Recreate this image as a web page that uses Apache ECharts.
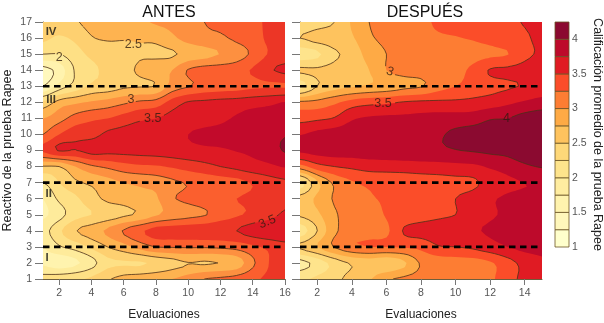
<!DOCTYPE html>
<html><head><meta charset="utf-8">
<script src="https://cdn.jsdelivr.net/npm/echarts@6/dist/echarts.min.js"></script>
<style>html,body{margin:0;padding:0;background:#fff}#c{width:604px;height:323px}</style></head>
<body><div id="c"></div>
<script>
// Calificación promedio. Rows run from reactivo 17 down to 1, columns from evaluación 1.
const antes = [
[2.3,2.35,2.47,2.58,2.6,2.65,2.7,2.78,2.82,2.92,3.0,3.05,3.1,3.18,3.3,3.4],
[2.3,2.22,2.3,2.48,2.53,2.52,2.53,2.56,2.7,2.85,2.93,2.96,3.05,3.14,3.3,3.38],
[2.0,2.0,2.15,2.3,2.35,2.4,2.47,2.45,2.47,2.58,2.66,2.76,2.88,3.05,3.27,3.35],
[1.4,1.6,2.03,2.2,2.3,2.4,2.55,2.65,2.75,3.02,3.1,3.12,3.15,3.28,3.46,3.56],
[1.5,1.85,2.1,2.3,2.35,2.45,2.48,2.52,2.85,2.98,3.08,3.12,3.15,3.2,3.22,3.22],
[2.3,2.6,2.7,2.78,2.85,2.95,3.05,3.1,3.35,3.52,3.55,3.58,3.6,3.65,3.7,3.76],
[2.75,2.9,3.1,3.2,3.25,3.35,3.45,3.5,3.6,3.65,3.65,3.7,3.78,3.85,3.82,3.8],
[3.0,3.25,3.4,3.42,3.55,3.6,3.65,3.68,3.72,3.75,3.8,3.82,3.85,3.88,3.9,3.98],
[3.3,3.52,3.49,3.6,3.58,3.58,3.6,3.62,3.65,3.68,3.7,3.72,3.76,3.8,3.88,4.02],
[2.48,2.5,2.75,2.95,3.05,3.15,3.2,3.22,3.28,3.35,3.42,3.5,3.57,3.65,3.7,3.77],
[2.0,2.25,2.45,2.55,2.65,2.75,2.8,2.85,2.95,3.02,3.08,3.12,3.17,3.27,3.38,3.45],
[1.75,2.05,2.2,2.4,2.55,2.6,2.68,2.72,2.97,3.05,3.12,3.18,3.25,3.3,3.35,3.42],
[1.7,1.9,2.15,2.25,2.35,2.45,2.55,2.72,2.85,2.92,2.98,3.12,3.22,3.3,3.4,3.55],
[1.9,2.2,2.48,2.62,2.8,3.02,3.2,3.35,3.38,3.4,3.42,3.45,3.5,3.62,3.7,3.75],
[1.75,1.97,2.1,2.3,2.5,2.65,2.85,3.0,3.02,3.03,3.03,3.05,3.1,3.2,3.3,3.4],
[1.7,1.6,1.7,1.9,2.18,2.22,2.22,2.3,2.4,2.49,2.47,2.51,2.6,2.95,3.25,3.4],
[2.1,2.15,2.2,2.3,2.47,2.58,2.63,2.68,2.75,2.85,3.0,3.05,3.1,3.2,3.3,3.35]
];
const despues = [
[2.3,2.38,2.5,2.78,3.0,3.08,3.15,3.2,3.28,3.3,3.32,3.38,3.45,3.52,3.65],
[2.5,2.6,2.65,2.72,2.96,3.05,3.13,3.18,3.22,3.24,3.27,3.33,3.42,3.45,3.6],
[2.1,2.2,2.45,2.6,2.85,3.0,3.05,3.08,3.1,3.12,3.15,3.2,3.24,3.42,3.55],
[2.55,2.55,2.6,2.65,2.75,3.0,3.08,3.1,3.12,3.15,3.32,3.52,3.55,3.6,3.72],
[2.15,2.5,2.65,2.72,2.78,2.85,2.93,2.98,3.15,3.25,3.35,3.42,3.47,3.52,3.6],
[3.05,3.08,3.2,3.35,3.42,3.45,3.52,3.55,3.55,3.55,3.57,3.62,3.7,3.78,3.85],
[3.4,3.45,3.52,3.72,3.78,3.8,3.8,3.82,3.85,3.86,3.88,3.98,4.0,4.1,4.15],
[3.74,3.82,3.88,3.88,3.9,3.9,3.92,3.94,3.97,4.05,4.1,4.12,4.15,4.2,4.25],
[3.8,3.85,3.88,3.88,3.9,3.9,3.92,3.93,3.95,3.99,4.02,4.05,4.08,4.2,4.3],
[3.15,3.4,3.5,3.55,3.6,3.62,3.63,3.65,3.66,3.68,3.7,3.78,3.85,3.95,4.02],
[2.15,2.7,3.05,3.22,3.3,3.3,3.32,3.35,3.38,3.42,3.45,3.6,3.7,3.75,3.78],
[2.6,2.8,3.03,3.12,3.22,3.28,3.3,3.33,3.38,3.5,3.6,3.72,3.78,3.8,3.82],
[2.55,2.7,2.97,3.08,3.12,3.27,3.32,3.38,3.45,3.5,3.62,3.72,3.78,3.8,3.82],
[2.1,2.5,2.95,3.1,3.15,3.2,3.52,3.6,3.63,3.66,3.72,3.78,3.82,3.82,3.82],
[2.55,2.75,3.02,3.2,3.25,3.25,3.28,3.32,3.48,3.5,3.55,3.65,3.75,3.82,3.82],
[1.9,2.1,2.35,2.53,2.6,2.55,2.7,3.03,3.1,3.13,3.15,3.22,3.4,3.58,3.7],
[2.2,2.3,2.42,2.6,2.72,2.95,3.05,3.08,3.12,3.15,3.18,3.2,3.42,3.55,3.65]
];
const bandLevels = [1,1.25,1.5,1.75,2,2.25,2.5,2.75,3,3.25,3.5,3.75,4,4.25];
const bandColors = ['#ffffcc','#fff7bb','#fff3ae','#ffeda0','#fee48c','#fed879','#fec35e','#feaa45','#fd7d33','#fb4d29','#e01b23','#bd0a2b','#8b0a30'];
const bandColorsAntes = ['#ffffcc','#fff8bd','#fff3ae','#feeb9b','#fee085','#fed070','#feb350','#fd9040','#fb5f2e','#ec3626','#de1a24','#c20a2b','#8b0a30'];
const contourLevels = [1.5,2,2.5,3,3.5,4];
const dividers = [3,7,13];
const reactivoTicks = [1,2,3,4,5,6,7,8,9,10,11,12,13,14,15,16,17];
const evalTicksAntes = [2,4,6,8,10,12,14,16];
const evalTicksDespues = [2,4,6,8,10,12,14];
const barTicks = [1,1.5,2,2.5,3,3.5,4];
const labelsAntes = [[2.0,14.8,'2',0],[6.6,15.6,'2.5',0],[6.45,12.2,'3',0],[7.8,11,'3.5',0],[14.9,4.55,'3.5',22]];
const labelsDespues = [[6.2,13.9,'3',-20],[5.8,11.9,'3.5',0],[12.95,11,'4',0]];
const romans = [[1.5,16.4,'IV'],[1.5,12.15,'III'],[1.35,6.3,'II'],[1.25,2.3,'I']];

const SUB = 4;
function cr(a,b,c,d,t){return b+0.5*t*(c-a+t*(2*a-5*b+4*c-d+t*(3*(b-c)+d-a)));}
function fineGrid(rows){
  const ny=rows.length,nx=rows[0].length;
  const R=(j,i)=>rows[ny-1-Math.max(0,Math.min(ny-1,j))][Math.max(0,Math.min(nx-1,i))];
  const F=[];
  for(let jj=0;jj<=(ny-1)*SUB;jj++){
    const j=Math.min(Math.floor(jj/SUB),ny-2),v=jj/SUB-j;const row=[];
    for(let ii=0;ii<=(nx-1)*SUB;ii++){
      const i=Math.min(Math.floor(ii/SUB),nx-2),u=ii/SUB-i;
      const col=[-1,0,1,2].map(d=>cr(R(j+d,i-1),R(j+d,i),R(j+d,i+1),R(j+d,i+2),u));
      row.push(cr(col[0],col[1],col[2],col[3],v));
    }
    F.push(row);
  }
  return F;
}
function fillPath(F,L,api){
  let s=[];
  for(let j=0;j<F.length-1;j++){
    for(let i=0;i<F[0].length-1;i++){
      const c=[[i,j,F[j][i]],[i+1,j,F[j][i+1]],[i+1,j+1,F[j+1][i+1]],[i,j+1,F[j+1][i]]];
      const pts=[];
      for(let k=0;k<4;k++){
        const p=c[k],q=c[(k+1)%4];
        if(p[2]>=L)pts.push([p[0],p[1]]);
        if((p[2]>=L)!==(q[2]>=L)){const t=(L-p[2])/(q[2]-p[2]);pts.push([p[0]+t*(q[0]-p[0]),p[1]+t*(q[1]-p[1])]);}
      }
      if(pts.length<3)continue;
      s.push('M'+pts.map(p=>{const o=api.coord([1+p[0]/SUB,1+p[1]/SUB]);return o[0].toFixed(2)+' '+o[1].toFixed(2);}).join('L')+'Z');
    }
  }
  return s.join('');
}
function linePath(F,L,api,labels){
  let s=[];
  const boxes=labels.map(l=>{const o=api.coord([l[0],l[1]]);return [o[0],o[1],l[2].length*3.3+1.5];});
  for(let j=0;j<F.length-1;j++){
    for(let i=0;i<F[0].length-1;i++){
      const c=[[i,j,F[j][i]],[i+1,j,F[j][i+1]],[i+1,j+1,F[j+1][i+1]],[i,j+1,F[j+1][i]]];
      const cr=[];
      for(let k=0;k<4;k++){
        const p=c[k],q=c[(k+1)%4];
        if((p[2]>=L)!==(q[2]>=L)){const t=(L-p[2])/(q[2]-p[2]);cr.push(api.coord([1+(p[0]+t*(q[0]-p[0]))/SUB,1+(p[1]+t*(q[1]-p[1]))/SUB]));}
      }
      for(let k=0;k+1<cr.length;k+=2){
        const mx=(cr[k][0]+cr[k+1][0])/2,my=(cr[k][1]+cr[k+1][1])/2;
        if(boxes.some(b=>Math.abs(mx-b[0])<b[2]&&Math.abs(my-b[1])<6))continue;
        s.push('M'+cr[k][0].toFixed(2)+' '+cr[k][1].toFixed(2)+'L'+cr[k+1][0].toFixed(2)+' '+cr[k+1][1].toFixed(2));
      }
    }
  }
  return s.join('');
}
const FONT='"Liberation Sans", Arial, sans-serif';
function contourSeries(rows,idx,labels,xLo,palette){
  const F=fineGrid(rows);
  const out=[];
  out.push({type:'custom',xAxisIndex:idx,yAxisIndex:idx,silent:true,animation:false,clip:true,z:2,
    data:palette.map((c,k)=>[xLo,bandLevels[k]]),
    renderItem:(p,api)=>({type:'path',shape:{pathData:fillPath(F,bandLevels[p.dataIndex],api)},style:{fill:palette[p.dataIndex]},silent:true})});
  out.push({type:'custom',xAxisIndex:idx,yAxisIndex:idx,silent:true,animation:false,clip:true,z:3,
    data:contourLevels.map(l=>[xLo,l]),
    renderItem:(p,api)=>({type:'path',shape:{pathData:linePath(F,contourLevels[p.dataIndex],api,labels)},style:{fill:null,stroke:'#4d3018',lineWidth:0.8},silent:true})});
  dividers.forEach(d=>out.push({type:'line',xAxisIndex:idx,yAxisIndex:idx,silent:true,animation:false,z:5,symbol:'none',
    data:[[xLo,d],[rows[0].length,d]],lineStyle:{color:'#000',width:2.6,type:[6.5,4.5]}}));
  out.push({type:'scatter',xAxisIndex:idx,yAxisIndex:idx,silent:true,animation:false,z:6,symbolSize:1,itemStyle:{color:'rgba(0,0,0,0)'},
    data:labels.map(l=>({value:[l[0],l[1]],label:{show:true,position:'inside',formatter:l[2],rotate:l[3],fontFamily:FONT,fontSize:12.5,color:'#2e1c10'}}))});
  return out;
}
const roman={type:'scatter',xAxisIndex:0,yAxisIndex:0,silent:true,animation:false,z:6,symbolSize:1,itemStyle:{color:'rgba(0,0,0,0)'},
  data:romans.map(r=>({value:[r[0],r[1]],label:{show:true,position:'inside',formatter:r[2],fontFamily:FONT,fontWeight:'bold',fontSize:11.5,color:'#111'}}))};
const bar={type:'custom',xAxisIndex:2,yAxisIndex:2,silent:true,animation:false,z:2,
  data:bandColors.map((c,k)=>[0,bandLevels[k],bandLevels[k+1]]),
  renderItem:(p,api)=>{
    const a=api.coord([0,api.value(1)]),b=api.coord([1,api.value(2)]);
    return {type:'rect',shape:{x:a[0],y:b[1],width:b[0]-a[0],height:a[1]-b[1]},style:{fill:bandColors[p.dataIndex],stroke:'#6b5424',lineWidth:0.8}};
  }};
const tickText={fontFamily:FONT,fontSize:10.5,color:'#555'};
const axisLn={show:true,lineStyle:{color:'#6e5f3c',width:1}};
const option={
  animation:false,backgroundColor:'#fff',
  title:[
    {text:'ANTES',left:164,top:0,textAlign:'center',textStyle:{fontFamily:FONT,fontWeight:'normal',fontSize:16,color:'#111'}},
    {text:'DESPUÉS',left:420,top:0,textAlign:'center',textStyle:{fontFamily:FONT,fontWeight:'normal',fontSize:16,color:'#111'}}
  ],
  grid:[
    {left:43,top:22,width:242,height:257,outerBoundsMode:'none'},
    {left:300,top:22,width:242,height:257,outerBoundsMode:'none'},
    {left:555,top:22,width:14,height:225,outerBoundsMode:'none'}
  ],
  xAxis:[
    {type:'value',gridIndex:0,min:1,max:16,splitLine:{show:false},axisLine:axisLn,axisTick:{length:6,lineStyle:{color:'#777'},customValues:evalTicksAntes},axisLabel:Object.assign({margin:9,customValues:evalTicksAntes},tickText),name:'Evaluaciones',nameLocation:'middle',nameGap:30,nameTextStyle:{fontFamily:FONT,fontSize:12,color:'#222'}},
    {type:'value',gridIndex:1,min:1,max:15,splitLine:{show:false},axisLine:axisLn,axisTick:{length:6,lineStyle:{color:'#777'},customValues:evalTicksDespues},axisLabel:Object.assign({margin:9,customValues:evalTicksDespues},tickText),name:'Evaluaciones',nameLocation:'middle',nameGap:30,nameTextStyle:{fontFamily:FONT,fontSize:12,color:'#222'}},
    {type:'value',gridIndex:2,min:0,max:1,show:false}
  ],
  yAxis:[
    {type:'value',gridIndex:0,min:1,max:17,interval:1,splitLine:{show:false},axisLine:axisLn,axisTick:{length:8,lineStyle:{color:'#777'}},axisLabel:Object.assign({margin:11,customValues:reactivoTicks},tickText),name:'Reactivo de la prueba Rapee',nameLocation:'middle',nameGap:29,nameTextStyle:{fontFamily:FONT,fontSize:12.5,color:'#222'}},
    {type:'value',gridIndex:1,min:1,max:17,interval:1,splitLine:{show:false},axisLine:axisLn,axisTick:{length:8,lineStyle:{color:'#777'}},axisLabel:{show:false}},
    {type:'value',gridIndex:2,min:1,max:4.25,position:'right',splitLine:{show:false},axisLine:{show:false},axisTick:{show:false},axisLabel:Object.assign({margin:3,customValues:barTicks},tickText),name:'Calificación promedio de la prueba Rapee',nameLocation:'middle',nameRotate:-90,nameGap:20,nameTextStyle:{fontFamily:FONT,fontSize:12.5,color:'#222'}}
  ],
  series:[].concat(contourSeries(antes,0,labelsAntes,1,bandColorsAntes),contourSeries(despues,1,labelsDespues,1,bandColors),[roman,bar])
};
echarts.init(document.getElementById('c'),null,{renderer:'canvas'}).setOption(option);
</script></body></html>
